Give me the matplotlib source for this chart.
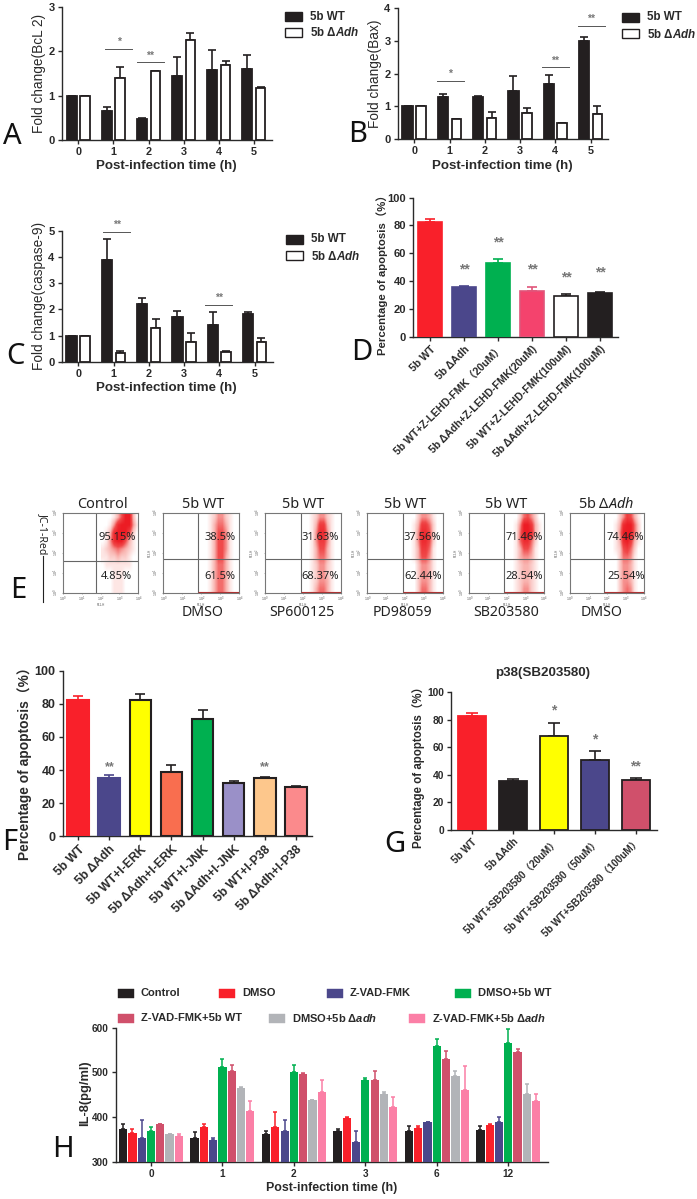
import matplotlib
matplotlib.use("Agg")
import matplotlib.pyplot as plt
from matplotlib.colors import LinearSegmentedColormap
from matplotlib.patches import Rectangle
import numpy as np

W, H = 697, 1199
plt.rcParams["font.family"] = ["Liberation Sans", "Noto Sans CJK SC", "DejaVu Sans"]
plt.rcParams["mathtext.fontset"] = "custom"
plt.rcParams["mathtext.it"] = "Liberation Sans:italic:bold"
plt.rcParams["mathtext.sf"] = "Noto Sans:italic"
plt.rcParams["mathtext.rm"] = "Liberation Sans"

BLACK = "#231f20"
RED = "#f9202a"
NAVY = "#4b478b"
GREEN = "#00b050"
CRIMSON = "#d0506b"
GREY = "#b2b4b8"
PINK = "#fb7fa6"
STAR = "#777777"

# A, B, C: fold change, mean and top of the error bar
hours = ["0", "1", "2", "3", "4", "5"]
a_wt = [1.0, 0.64, 0.47, 1.45, 1.57, 1.60]
a_wt_top = [1.0, 0.73, 0.49, 1.88, 2.03, 1.92]
a_ko = [1.0, 1.40, 1.55, 2.26, 1.70, 1.17]
a_ko_top = [1.0, 1.65, 1.56, 2.42, 1.79, 1.19]

b_wt = [1.0, 1.28, 1.30, 1.47, 1.68, 3.0]
b_wt_top = [1.0, 1.38, 1.31, 1.92, 1.95, 3.13]
b_ko = [1.0, 0.60, 0.65, 0.80, 0.48, 0.78]
b_ko_top = [1.0, 0.61, 0.84, 0.94, 0.50, 1.0]

c_wt = [1.0, 3.90, 2.20, 1.72, 1.40, 1.83]
c_wt_top = [1.0, 4.67, 2.42, 1.95, 1.90, 1.90]
c_ko = [1.0, 0.35, 1.30, 0.78, 0.37, 0.75]
c_ko_top = [1.0, 0.40, 1.65, 1.09, 0.40, 0.90]

# D, F, G: percentage of apoptosis
d_labels = ["5b WT", "5b ΔAdh", "5b WT+Z-LEHD-FMK（20uM）", "5b ΔAdh+Z-LEHD-FMK(20uM)",
            "5b WT+Z-LEHD-FMK(100uM)", "5b ΔAdh+Z-LEHD-FMK(100uM)"]
d_vals = [82.5, 35.5, 53, 33, 29.5, 31.5]
d_tops = [85, 36.8, 56, 36, 30.5, 32.5]
d_stars = ["", "**", "**", "**", "**", "**"]
d_star_y = [0, 48.7, 68, 48.7, 42.5, 46]

f_labels = ["5b WT", "5b ΔAdh", "5b WT+I-ERK", "5b ΔAdh+I-ERK", "5b WT+I-JNK",
            "5b ΔAdh+I-JNK", "5b WT+I-P38", "5b ΔAdh+I-P38"]
f_vals = [82.5, 35.5, 82.5, 39, 71, 32, 35, 30]
f_tops = [85, 36.8, 86, 43, 76.5, 33.5, 35.6, 30.6]
f_stars = ["", "**", "", "", "", "", "**", ""]
f_star_y = [0, 42, 0, 0, 0, 0, 42, 0]

g_labels = ["5b WT", "5b ΔAdh", "5b WT+SB203580（20uM）", "5b WT+SB203580（50uM）",
            "5b WT+SB203580（100uM）"]
g_vals = [82.5, 35.5, 68, 50.5, 36]
g_tops = [85, 36.8, 78, 57, 37.5]
g_stars = ["", "", "*", "*", "**"]
g_star_y = [0, 0, 87, 66, 46]

# E: flow cytometry, density read by eye. Rows go from FL2 10^4 down to 10^0,
# columns from FL1 10^2 to 10^4
e_titles = ["Control", "5b WT", "5b WT", "5b WT", "5b WT", "5b Δ$\\mathsf{Adh}$"]
e_bottoms = ["", "DMSO", "SP600125", "PD98059", "SB203580", "DMSO"]
e_upper = ["95.15%", "38.5%", "31.63%", "37.56%", "71.46%", "74.46%"]
e_lower = ["4.85%", "61.5%", "68.37%", "62.44%", "28.54%", "25.54%"]
e_control = [[0, 0, 0, 1, 3, 6, 9, 9, 3, 0],
             [0, 0, 1, 4, 8, 9, 9, 9, 4, 1],
             [0, 1, 3, 8, 9, 9, 9, 6, 2, 0],
             [0, 1, 4, 8, 9, 9, 6, 3, 1, 0],
             [1, 2, 3, 4, 5, 4, 3, 2, 1, 0],
             [1, 1, 2, 2, 3, 2, 2, 1, 0, 0],
             [0, 1, 1, 1, 1, 1, 1, 1, 0, 0],
             [0, 0, 0, 1, 1, 1, 0, 0, 0, 0],
             [0, 0, 0, 1, 1, 1, 0, 0, 0, 0],
             [0, 0, 0, 1, 1, 1, 0, 0, 0, 0]]
e_dmso = [[0, 0, 1, 2, 4, 4, 2, 1, 0, 0],
          [0, 0, 1, 3, 5, 5, 3, 1, 0, 0],
          [0, 0, 1, 3, 6, 6, 4, 1, 0, 0],
          [0, 0, 1, 3, 6, 6, 4, 1, 0, 0],
          [0, 0, 1, 3, 6, 6, 4, 1, 0, 0],
          [0, 0, 1, 3, 6, 6, 3, 1, 0, 0],
          [0, 0, 1, 3, 5, 5, 3, 1, 0, 0],
          [0, 0, 1, 3, 5, 5, 3, 1, 0, 0],
          [0, 0, 1, 3, 5, 5, 3, 1, 0, 0],
          [0, 0, 1, 3, 5, 5, 3, 1, 0, 0]]
e_sp = [[0, 0, 1, 2, 4, 4, 2, 1, 0, 0],
        [0, 0, 1, 3, 7, 7, 3, 1, 0, 0],
        [0, 0, 1, 4, 8, 8, 4, 1, 0, 0],
        [0, 0, 1, 4, 7, 7, 4, 1, 0, 0],
        [0, 0, 1, 3, 6, 6, 3, 1, 0, 0],
        [0, 0, 1, 3, 5, 5, 3, 1, 0, 0],
        [0, 0, 1, 2, 4, 4, 2, 1, 0, 0],
        [0, 0, 1, 2, 4, 4, 2, 1, 0, 0],
        [0, 0, 1, 2, 4, 4, 3, 1, 0, 0],
        [0, 0, 1, 3, 5, 5, 3, 1, 0, 0]]
e_pd = [[0, 0, 0, 2, 4, 4, 3, 1, 0, 0],
        [0, 0, 1, 3, 7, 7, 5, 2, 0, 0],
        [0, 0, 1, 4, 8, 8, 6, 2, 0, 0],
        [0, 0, 1, 4, 8, 8, 6, 2, 0, 0],
        [0, 0, 1, 3, 7, 7, 5, 1, 0, 0],
        [0, 0, 1, 3, 6, 6, 4, 1, 0, 0],
        [0, 0, 0, 2, 4, 4, 3, 1, 0, 0],
        [0, 0, 0, 2, 4, 4, 3, 1, 0, 0],
        [0, 0, 0, 2, 4, 4, 3, 1, 0, 0],
        [0, 0, 0, 2, 5, 5, 3, 1, 0, 0]]
e_sb = [[0, 0, 0, 2, 5, 6, 4, 2, 0, 0],
        [0, 0, 1, 4, 9, 9, 7, 3, 1, 0],
        [0, 0, 1, 5, 9, 9, 8, 3, 1, 0],
        [0, 0, 1, 5, 8, 8, 5, 2, 0, 0],
        [0, 0, 1, 3, 6, 6, 4, 1, 0, 0],
        [0, 0, 1, 3, 4, 4, 3, 1, 0, 0],
        [0, 0, 1, 2, 3, 3, 2, 1, 0, 0],
        [0, 0, 1, 2, 3, 3, 2, 1, 0, 0],
        [0, 0, 1, 2, 3, 3, 2, 1, 0, 0],
        [0, 0, 1, 2, 4, 4, 2, 1, 0, 0]]
e_adh = [[0, 0, 0, 2, 4, 7, 6, 3, 1, 0],
         [0, 0, 1, 3, 8, 9, 9, 5, 2, 0],
         [0, 0, 1, 4, 9, 9, 9, 5, 2, 0],
         [0, 0, 1, 3, 8, 9, 7, 3, 1, 0],
         [0, 0, 1, 2, 6, 7, 5, 2, 0, 0],
         [0, 0, 0, 2, 5, 5, 4, 1, 0, 0],
         [0, 0, 0, 2, 4, 4, 3, 1, 0, 0],
         [0, 0, 0, 2, 4, 4, 3, 1, 0, 0],
         [0, 0, 0, 2, 4, 4, 3, 1, 0, 0],
         [0, 0, 0, 2, 4, 5, 4, 1, 0, 0]]
e_grids = [e_control, e_dmso, e_sp, e_pd, e_sb, e_adh]

# H: IL-8, one row per series, one value per time point
h_times = ["0", "1", "2", "3", "6", "12"]
h_series = ["Control", "DMSO", "Z-VAD-FMK", "DMSO+5b WT", "Z-VAD-FMK+5b WT",
            "DMSO+5b Δ$\\mathit{adh}$", "Z-VAD-FMK+5b Δ$\\mathit{adh}$"]
h_control = [373, 353, 363, 368, 368, 372]
h_control_top = [384, 367, 369, 374, 379, 380]
h_dmso = [364, 377, 378, 398, 375, 383]
h_dmso_top = [373, 384, 411, 399, 381, 384]
h_zvad = [354, 349, 369, 343, 389, 389]
h_zvad_top = [394, 352, 394, 369, 390, 401]
h_dmso_wt = [368, 513, 501, 484, 560, 565]
h_dmso_wt_top = [378, 531, 517, 487, 575, 597]
h_zvad_wt = [384, 504, 497, 484, 531, 546]
h_zvad_wt_top = [385, 517, 498, 504, 548, 553]
h_dmso_adh = [361, 466, 438, 451, 492, 452]
h_dmso_adh_top = [362, 467, 439, 455, 504, 473]
h_zvad_adh = [357, 413, 456, 422, 460, 436]
h_zvad_adh_top = [363, 436, 484, 445, 514, 451]

fig = plt.figure(figsize=(W / 100, H / 100), dpi=100)


def px_text(x, y, s, **kw):
    kw.setdefault("ha", "center")
    kw.setdefault("va", "center")
    return fig.text(x / W, 1 - y / H, s, **kw)


def px_axes(left, top, right, bottom):
    return fig.add_axes([left / W, 1 - bottom / H, (right - left) / W, (bottom - top) / H])


def bar_axes(left, top, right, bottom, tick0, tick_last, n, ymin, ymax, yticks, tick_size):
    ax = px_axes(left, top, right, bottom)
    step = (tick_last - tick0) / (n - 1)
    ax.set_xlim((left - tick0) / step, (right - tick0) / step)
    ax.set_ylim(ymin, ymax)
    ax.set_yticks(yticks)
    ax.set_xticks(range(n))
    for side in ["top", "right"]:
        ax.spines[side].set_visible(False)
    for side in ["left", "bottom"]:
        ax.spines[side].set_linewidth(1.0)
        ax.spines[side].set_color("#2a2a2a")
    ax.tick_params(length=3.2, width=1.0, color="#2a2a2a", labelcolor="#2a2a2a", pad=2)
    ax.tick_params(axis="y", labelsize=tick_size)
    for t in ax.get_yticklabels():
        t.set_fontweight("bold")
    ax.patch.set_alpha(0)
    return ax


def bars(ax, x, vals, tops, color, edge, width, lw=1.3, cap=2.6):
    for xi, v, top, c, e in zip(x, vals, tops, color, edge):
        ax.errorbar(xi, v, yerr=[[0], [top - v]], color=e, capsize=cap, capthick=1.2,
                    elinewidth=1.2, zorder=2)
        ax.bar(xi, v, width=width, color=c, edgecolor=e, linewidth=lw, zorder=3)


def legend_patch(x, y, w, h, face, edge, lw=1.0):
    fig.add_artist(Rectangle((x / W, 1 - (y + h) / H), w / W, h / H, facecolor=face,
                             edgecolor=edge, linewidth=lw, transform=fig.transFigure))


def fold_panel(box, ticks, ymax, yticks, wt, wt_top, ko, ko_top, ylabel, ylabel_x, sig, leg_x, leg_y):
    ax = bar_axes(*box, *ticks, 6, 0, ymax, yticks, 8)
    x = np.arange(6)
    bars(ax, x - 0.19, wt, wt_top, [BLACK] * 6, [BLACK] * 6, 0.29)
    bars(ax, x + 0.19, ko, ko_top, ["white"] * 6, [BLACK] * 6, 0.27)
    ax.set_xticklabels(hours, fontsize=7.8, fontweight="bold")
    for x0, x1, y, s in sig:
        ax.plot([x0, x1], [y, y], color="#555555", lw=0.7, clip_on=False)
        ax.text((x0 + x1) / 2, y + ymax * 0.015, s, ha="center", va="bottom", fontsize=7.5,
                fontweight="bold", color=STAR)
    px_text((box[0] + box[2]) / 2 - 0.5, box[3] + 26.5, "Post-infection time (h)", fontsize=9.6,
            fontweight="bold", color="#2a2a2a")
    px_text(ylabel_x, (box[1] + box[3]) / 2, ylabel, rotation=90, fontsize=9.8, color="#2a2a2a")
    legend_patch(leg_x, leg_y, 17, 8.5, BLACK, BLACK)
    legend_patch(leg_x, leg_y + 16, 17, 8.5, "white", BLACK)
    px_text(leg_x + 25, leg_y + 4.5, "5b WT", ha="left", fontsize=8.4, fontweight="bold", color="#2a2a2a")
    px_text(leg_x + 25, leg_y + 21, "5b Δ$\\mathit{Adh}$", ha="left", fontsize=8.4, fontweight="bold", color="#2a2a2a")
    return ax


fold_panel((61.7, 7.3, 271.7, 139.7), (78.3, 254), 3, [0, 1, 2, 3], a_wt, a_wt_top, a_ko, a_ko_top,
           "Fold change(BcL 2)", 39,
           [(0.77, 1.54, 2.05, "*"), (1.66, 2.43, 1.75, "**")], 285, 12)
fold_panel((397.7, 8.3, 608, 139), (414.3, 590.7), 4, [0, 1, 2, 3, 4], b_wt, b_wt_top, b_ko, b_ko_top,
           "Fold change(Bax)", 375,
           [(0.64, 1.41, 1.79, "*"), (3.61, 4.38, 2.19, "**"), (4.63, 5.40, 3.46, "**")], 622, 13)
fold_panel((61.7, 230.7, 272.7, 362), (78.3, 254.7), 5, [0, 1, 2, 3, 4, 5], c_wt, c_wt_top, c_ko, c_ko_top,
           "Fold change(caspase-9)", 39,
           [(0.71, 1.47, 4.94, "**"), (3.6, 4.37, 2.18, "**")], 286, 235)

# D
ax = bar_axes(413.3, 197.7, 617.7, 336.7, 430.3, 600, 6, 0, 100, [0, 20, 40, 60, 80, 100], 8)
d_faces = [RED, NAVY, GREEN, "#f4436d", "white", BLACK]
d_edges = [RED, NAVY, GREEN, "#e0557a", BLACK, BLACK]
bars(ax, np.arange(6), d_vals, d_tops, d_faces, d_edges, 0.7, lw=1.2, cap=3.8)
ax.set_xticklabels(d_labels, rotation=45, ha="right", rotation_mode="anchor", fontsize=7.6,
                   fontweight="bold")
for i, s in enumerate(d_stars):
    if s:
        ax.text(i, d_star_y[i], s, ha="center", va="center", fontsize=10, fontweight="bold", color=STAR)
px_text(381.7, 271.7, "Percentage of apoptosis（%）", rotation=90, fontsize=8.2, fontweight="bold", color="#2a2a2a")

# E
red_map = LinearSegmentedColormap.from_list("flow", ["#ffffff", "#f9b4b0", "#f04a4a", "#ec1c24"])
e_boxes = [(62.7, 138.3, 96.3, 561), (163.3, 239.3, 198.3, 559), (265, 340.7, 300.7, 559),
           (367.3, 442.7, 402.7, 559), (469.3, 544, 504.3, 559.3), (570, 644, 604.3, 559.3)]
e_title_x = [102.7, 202.7, 303, 405, 505.7, 605.7]
e_bottom_x = [0, 202.7, 301.7, 402, 506, 601.7]
e_text_x = [116.7, 220, 320, 422.7, 524, 625.7]
for i, (left, right, vx, hy) in enumerate(e_boxes):
    ax = px_axes(left, 512.7, right, 592.7)
    ax.imshow(e_grids[i], extent=(2, 4, 0, 4), origin="upper", aspect="auto", cmap=red_map,
              vmin=0, vmax=9, interpolation="bilinear", zorder=1)
    ax.set_xlim(0, 4)
    ax.set_ylim(0, 4)
    xline = (vx - left) / (right - left) * 4
    yline = (592.7 - hy) / 80 * 4
    ax.axvline(xline, color="#666666", lw=0.8, zorder=2)
    ax.axhline(yline, color="#666666", lw=0.8, zorder=2)
    if i > 0:
        ax.hlines(0.03, xline, 4, color="#b03030", lw=0.8, zorder=2)
    for side in ax.spines.values():
        side.set_color("#777777")
        side.set_linewidth(0.8)
    ax.set_xticks(range(5))
    ax.set_yticks(range(5))
    decades = ["10$^{%d}$" % k for k in range(5)]
    ax.set_xticklabels(decades, fontsize=2.6, color="#555555")
    ax.set_yticklabels(decades, fontsize=2.6, color="#555555", rotation=90, va="center")
    ax.tick_params(length=1, width=0.4, pad=0.4, color="#777777")
    ax.set_xlabel("FL1-H", fontsize=2.2, labelpad=-1, color="#555555")
    if i > 0:
        ax.set_ylabel("FL2-H", fontsize=2.2, labelpad=0, color="#555555")
    px_text(e_title_x[i], 504, e_titles[i], fontsize=10.4, family=["Noto Sans"], color="#222222")
    if e_bottoms[i]:
        px_text(e_bottom_x[i], 612.5, e_bottoms[i], fontsize=10.2, family=["Noto Sans"], color="#222222")
    px_text(e_text_x[i], 537.3, e_upper[i], fontsize=8, family=["Noto Sans"], color="#222222")
    px_text(e_text_x[i], 576.7, e_lower[i], fontsize=8, family=["Noto Sans"], color="#222222")
px_text(43, 534, "JC-1-Red", rotation=-90, fontsize=7.6, family=["Noto Sans"], color="#222222")
fig.add_artist(plt.Line2D([43 / W, 43 / W], [1 - 556 / H, 1 - 602 / H], color="#222222", lw=0.8))

# F
ax = bar_axes(62.7, 670.7, 311.7, 836.3, 78.3, 295.7, 8, 0, 100, [0, 20, 40, 60, 80, 100], 9)
f_faces = [RED, NAVY, "#ffff00", "#f96e4f", GREEN, "#9a90c8", "#fdc78c", "#fb8a8c"]
f_edges = [RED, NAVY, BLACK, BLACK, BLACK, BLACK, BLACK, BLACK]
bars(ax, np.arange(8), f_vals, f_tops, f_faces, f_edges, 0.7, lw=1.5, cap=3.6)
ax.set_xticklabels(f_labels, rotation=45, ha="right", rotation_mode="anchor", fontsize=8.8,
                   fontweight="bold")
for i, s in enumerate(f_stars):
    if s:
        ax.text(i, f_star_y[i], s, ha="center", va="center", fontsize=9, fontweight="bold", color=STAR)
px_text(25, 760, "Percentage of apoptosis（%）", rotation=90, fontsize=9.9, fontweight="bold", color="#2a2a2a")

# G
ax = bar_axes(451, 692.3, 656.7, 829.7, 471.7, 635.7, 5, 0, 100, [0, 20, 40, 60, 80, 100], 7.4)
g_faces = [RED, BLACK, "#ffff00", NAVY, CRIMSON]
g_edges = [RED, BLACK, BLACK, BLACK, BLACK]
bars(ax, np.arange(5), g_vals, g_tops, g_faces, g_edges, 0.68, lw=1.3, cap=4.4)
ax.set_xticklabels(g_labels, rotation=45, ha="right", rotation_mode="anchor", fontsize=7.2,
                   fontweight="bold")
for i, s in enumerate(g_stars):
    if s:
        ax.text(i, g_star_y[i], s, ha="center", va="center", fontsize=10, fontweight="bold", color=STAR)
px_text(419, 765, "Percentage of apoptosis（%）", rotation=90, fontsize=8.3, fontweight="bold", color="#2a2a2a")
px_text(543, 672.7, "p38(SB203580)", fontsize=9.6, fontweight="bold", color="#2a2a2a")

# H
ax = bar_axes(116, 1027.7, 547.7, 1161.7, 151, 508.3, 6, 300, 600, [300, 400, 500, 600], 7.2)
h_vals = [h_control, h_dmso, h_zvad, h_dmso_wt, h_zvad_wt, h_dmso_adh, h_zvad_adh]
h_tops = [h_control_top, h_dmso_top, h_zvad_top, h_dmso_wt_top, h_zvad_wt_top, h_dmso_adh_top, h_zvad_adh_top]
h_colors = [BLACK, RED, NAVY, GREEN, CRIMSON, GREY, PINK]
for k in range(7):
    x = np.arange(6) + (k - 3) * 0.13
    ax.errorbar(x, h_vals[k], yerr=[np.zeros(6), np.array(h_tops[k]) - np.array(h_vals[k])],
                fmt="none", ecolor=h_colors[k], capsize=1.6, capthick=1.1, elinewidth=1.1, zorder=2)
    ax.bar(x, h_vals[k], width=0.115, color=h_colors[k], zorder=3)
ax.set_xticklabels(h_times, fontsize=7.2, fontweight="bold")
px_text(85, 1093, "IL-8(pg/ml)", rotation=90, fontsize=9.3, fontweight="bold", color="#2a2a2a")
px_text(331.7, 1188, "Post-infection time (h)", fontsize=8.9, fontweight="bold", color="#2a2a2a")
h_leg_x = [117.7, 219, 326.7, 454.7, 117.7, 269, 409]
h_leg_y = [993, 993, 993, 993, 1018, 1018, 1018]
for k in range(7):
    legend_patch(h_leg_x[k], h_leg_y[k] - 4.5, 16, 9, h_colors[k], h_colors[k], lw=0.3)
    px_text(h_leg_x[k] + 23, h_leg_y[k], h_series[k], ha="left", fontsize=8, fontweight="bold", color="#2a2a2a")

# panel letters
letters = ["A", "B", "C", "D", "E", "F", "G", "H"]
letter_x = [12, 358, 15, 362, 18, 10, 395, 63]
letter_y = [137, 135, 357, 352, 590, 842, 844.7, 1149.7]
for s, lx, ly in zip(letters, letter_x, letter_y):
    px_text(lx, ly, s, fontsize=21, family=["Noto Sans"], color="#111111")

fig.savefig("out.png", dpi=100)
